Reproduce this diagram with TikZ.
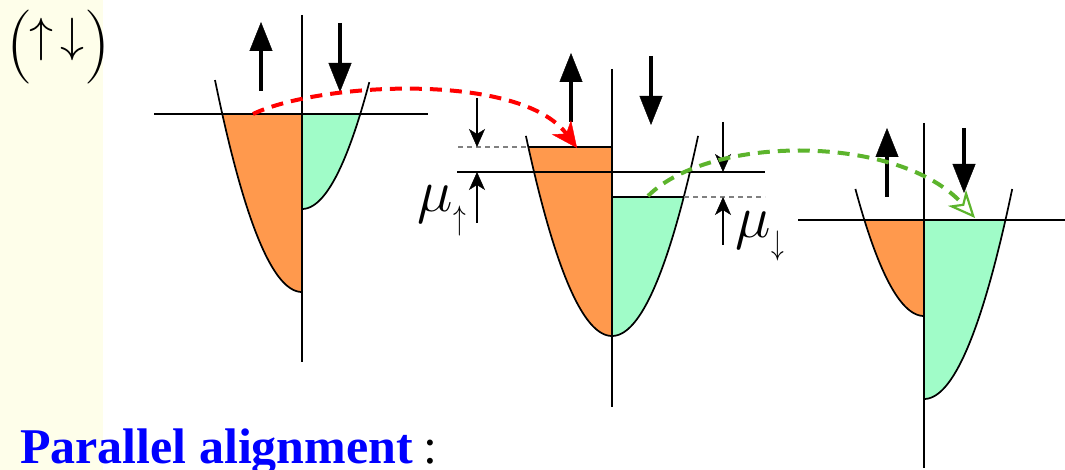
\RequirePackage{fix-cm}
\documentclass[tikz,border=0pt]{standalone}
\usepackage{fontspec}
\usepackage{graphicx}
\newfontfamily\timesfont{Liberation Serif}
\usetikzlibrary{arrows.meta}
\definecolor{bandorange}{RGB}{255,153,77}
\definecolor{bandgreen}{RGB}{160,252,200}
\definecolor{paleyellow}{RGB}{254,254,234}
\definecolor{hopgreen}{RGB}{92,180,44}
\definecolor{textblue}{RGB}{0,0,255}
\begin{document}
\begin{tikzpicture}[x=1pt,y=-1pt,
  axisline/.style={line width=1.8pt},
  bandline/.style={line width=1.7pt},
  levelline/.style={line width=1.8pt},
  dashlevel/.style={line width=1.2pt, gray, dash pattern=on 5pt off 4pt},
  spinarrow/.style={line width=4.5pt, -{Triangle[length=29pt,width=23pt,line width=0.4pt]}},
  thinarrow/.style={line width=1.4pt, -{Stealth[length=18pt,width=16pt,inset=5pt,line width=0.4pt]}},
  hop/.style={line width=4pt, dash pattern=on 12pt off 8pt},
  lbl/.style={anchor=base west, inner sep=0pt, outer sep=0pt},
]
\useasboundingbox (0,0) rectangle (1065,470);
\fill[white] (0,0) rectangle (1065,470);
\fill[paleyellow] (0,0) rectangle (103,470);

% ---------- fills ----------
% diagram 1
\fill[bandorange] (302,114) -- (222.3,114) -- plot[domain=222.3:302, samples=40, variable=\t] ({\t},{292-0.028*(\t-302)^2}) -- cycle;
\fill[bandgreen] (302,114) -- (360.2,114) -- plot[domain=360.2:302, samples=40, variable=\t] ({\t},{209-0.028*(\t-302)^2}) -- cycle;
% diagram 2
\fill[bandorange] (612,147) -- (528.3,147) -- plot[domain=528.3:612, samples=40, variable=\t] ({\t},{336-0.027*(\t-612)^2}) -- cycle;
\fill[bandgreen] (612,197) -- (683.7,197) -- plot[domain=683.7:612, samples=40, variable=\t] ({\t},{336-0.027*(\t-612)^2}) -- cycle;
% diagram 3
\fill[bandorange] (924,220) -- (864.4,220) -- plot[domain=864.4:924, samples=40, variable=\t] ({\t},{316-0.027*(\t-924)^2}) -- cycle;
\fill[bandgreen] (924,220) -- (1005.4,220) -- plot[domain=1005.4:924, samples=40, variable=\t] ({\t},{399-0.027*(\t-924)^2}) -- cycle;

% ---------- band curves ----------
\draw[bandline] plot[domain=215:302, samples=50, variable=\t] ({\t},{292-0.028*(\t-302)^2});
\draw[bandline] plot[domain=302:369.3, samples=50, variable=\t] ({\t},{209-0.028*(\t-302)^2});
\draw[bandline] plot[domain=525.9:698.1, samples=80, variable=\t] ({\t},{336-0.027*(\t-612)^2});
\draw[bandline] plot[domain=855.4:924, samples=50, variable=\t] ({\t},{316-0.027*(\t-924)^2});
\draw[bandline] plot[domain=924:1012.2, samples=50, variable=\t] ({\t},{399-0.027*(\t-924)^2});

% ---------- axes ----------
\draw[axisline] (302,15) -- (302,362);
\draw[axisline] (612,69) -- (612,407);
\draw[axisline] (924,123) -- (924,468);

% ---------- levels ----------
\draw[levelline] (154,114) -- (428,114);
\draw[levelline] (457,172) -- (765,172);
\draw[levelline] (528.3,147) -- (612,147);
\draw[levelline] (612,197) -- (683.7,197);
\draw[dashlevel] (458,147) -- (528,147);
\draw[dashlevel] (684,197) -- (765,197);
\draw[levelline] (798,220) -- (1065,220);

% ---------- spin arrows ----------
\coordinate (u1a) at (261,91);  \coordinate (u1b) at (261,22);
\coordinate (d1a) at (340,23);  \coordinate (d1b) at (340,92);
\coordinate (u2a) at (571,122); \coordinate (u2b) at (571,53);
\coordinate (d2a) at (651,56);  \coordinate (d2b) at (651,125);
\coordinate (u3a) at (887,197); \coordinate (u3b) at (887,128);
\coordinate (d3a) at (964,128); \coordinate (d3b) at (964,193);
\draw[spinarrow] (u1a) -- (u1b);
\draw[spinarrow] (d1a) -- (d1b);
\draw[spinarrow] (u2a) -- (u2b);
\draw[spinarrow] (d2a) -- (d2b);
\draw[spinarrow] (u3a) -- (u3b);
\draw[spinarrow] (d3a) -- (d3b);

% ---------- chemical potential markers ----------
\coordinate (m1a) at (477,98);  \coordinate (m1b) at (477,147);
\coordinate (m2a) at (477,223); \coordinate (m2b) at (477,172);
\coordinate (m3a) at (723,122); \coordinate (m3b) at (723,172);
\coordinate (m4a) at (723,245); \coordinate (m4b) at (723,197);
\draw[thinarrow] (m1a) -- (m1b);
\draw[thinarrow] (m2a) -- (m2b);
\draw[thinarrow] (m3a) -- (m3b);
\draw[thinarrow] (m4a) -- (m4b);

% ---------- hops ----------
\coordinate (redstart) at (253,114);
\coordinate (redend) at (577,148);
\draw[hop, red, -{Stealth[length=26pt,width=24pt,inset=8pt,line width=0.4pt]}]
  (redstart) .. controls (320,82) and (520,72) .. (redend);
\coordinate (greenstart) at (648,196);
\coordinate (greenend) at (975,218);
\draw[hop, hopgreen, -{Stealth[open,length=27pt,width=24pt,inset=8pt,line width=2.2pt]}]
  (greenstart) .. controls (710,134) and (900,134) .. (greenend);

% ---------- labels ----------
\node[lbl] (spinpair) at (6,66) {{\fontsize{74}{74}\selectfont(}\kern-3pt\raisebox{14pt}{\fontsize{48}{48}\selectfont$\uparrow$\kern7pt$\downarrow$}{\fontsize{74}{74}\selectfont)}};
\node[lbl] (muup) at (417,212) {{\fontsize{60}{60}\selectfont$\mu$}\kern1pt\raisebox{-18pt}{\fontsize{34}{34}\selectfont\scalebox{0.75}[1]{$\uparrow$}}};
\node[lbl] (mudown) at (735,238) {{\fontsize{60}{60}\selectfont$\mu$}\kern1pt\raisebox{-17pt}{\fontsize{34}{34}\selectfont\scalebox{0.75}[1]{$\downarrow$}}};
\node[lbl] (title) at (20,463) {\fontsize{50}{50}\selectfont\timesfont{\bfseries\color{textblue}Parallel alignment}\kern-2pt{} :};
\end{tikzpicture}
\end{document}
